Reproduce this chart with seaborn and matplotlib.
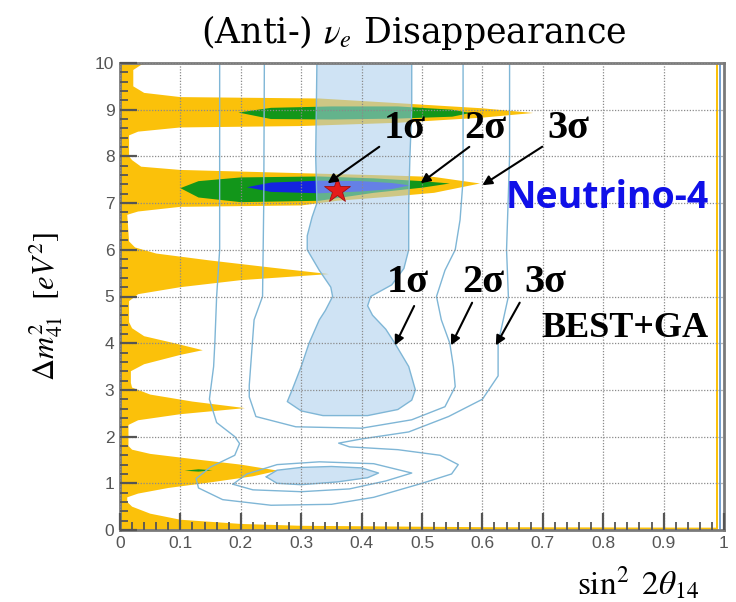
import matplotlib
matplotlib.use("Agg")
import matplotlib.pyplot as plt
import seaborn as sns
from matplotlib.ticker import MultipleLocator, FuncFormatter

# Neutrino-4 3 sigma region (yellow): right boundary from bottom to top, closed along x = 0
n4_3s_x = [0.99, 0.99, 0.60, 0.30, 0.20, 0.10, 0.05, 0.02, 0.012, 0.012,
           0.03, 0.08, 0.15, 0.22, 0.262, 0.20, 0.12, 0.05, 0.02, 0.014,
           0.014, 0.03, 0.10, 0.207, 0.12, 0.05, 0.02, 0.018, 0.018, 0.04,
           0.10, 0.137, 0.09, 0.04, 0.02, 0.015, 0.015, 0.03, 0.10, 0.20,
           0.346, 0.25, 0.15, 0.06, 0.025, 0.015, 0.012, 0.03, 0.10, 0.30,
           0.36, 0.45, 0.52, 0.596, 0.52, 0.45, 0.33, 0.10, 0.035, 0.02,
           0.015, 0.015, 0.03, 0.10, 0.30, 0.46, 0.60, 0.684, 0.60, 0.46,
           0.33, 0.10, 0.04, 0.022, 0.022, 0.035, 0.05, 0.0, 0.0]
n4_3s_y = [0.00, 0.05, 0.06, 0.09, 0.13, 0.22, 0.35, 0.50, 0.60, 0.70,
           0.78, 0.90, 1.02, 1.15, 1.27, 1.40, 1.52, 1.63, 1.72, 1.80,
           2.25, 2.35, 2.48, 2.61, 2.75, 2.90, 3.05, 3.15, 3.40, 3.55,
           3.75, 3.85, 4.00, 4.15, 4.32, 4.45, 4.90, 5.05, 5.20, 5.35,
           5.48, 5.62, 5.77, 5.92, 6.05, 6.18, 6.75, 6.82, 6.92, 6.95,
           7.05, 7.14, 7.22, 7.42, 7.56, 7.59, 7.63, 7.71, 7.78, 7.92,
           8.00, 8.45, 8.53, 8.62, 8.65, 8.72, 8.83, 8.93, 9.03, 9.14,
           9.24, 9.27, 9.36, 9.50, 9.85, 9.96, 10.0, 10.0, 0.0]

# Neutrino-4 2 sigma islands (green)
n4_2s_a_x = [0.196, 0.25, 0.35, 0.46, 0.55, 0.58, 0.55, 0.46, 0.35, 0.25]
n4_2s_a_y = [8.94, 9.04, 9.07, 9.07, 9.00, 8.93, 8.85, 8.81, 8.79, 8.80]
n4_2s_b_x = [0.10, 0.13, 0.20, 0.33, 0.42, 0.50, 0.546, 0.50, 0.42, 0.33, 0.20, 0.13]
n4_2s_b_y = [7.32, 7.47, 7.55, 7.57, 7.53, 7.47, 7.42, 7.33, 7.22, 7.05, 7.02, 7.12]
n4_2s_c_x = [0.107, 0.13, 0.153, 0.13]
n4_2s_c_y = [1.27, 1.30, 1.28, 1.25]

# Neutrino-4 1 sigma island (blue)
n4_1s_x = [0.21, 0.25, 0.33, 0.40, 0.45, 0.48, 0.45, 0.40, 0.33, 0.25]
n4_1s_y = [7.34, 7.44, 7.48, 7.47, 7.43, 7.38, 7.30, 7.25, 7.21, 7.24]

# Neutrino-4 best fit
n4_best = (0.36, 7.28)

# BEST+GA 1 sigma regions (filled light blue)
best_1s_a_x = [0.326, 0.325, 0.324, 0.326, 0.318, 0.31, 0.31, 0.33, 0.349, 0.352,
               0.34, 0.33, 0.313, 0.30, 0.285, 0.277, 0.30, 0.336, 0.41, 0.46,
               0.483, 0.489, 0.478, 0.455, 0.44, 0.418, 0.41, 0.415, 0.45, 0.47,
               0.478, 0.478, 0.48, 0.483, 0.483]
best_1s_a_y = [10.0, 9.0, 8.0, 7.0, 6.7, 6.3, 6.0, 5.56, 5.2, 5.0,
               4.7, 4.5, 4.0, 3.5, 3.0, 2.75, 2.55, 2.45, 2.45, 2.58,
               2.78, 3.0, 3.5, 4.0, 4.3, 4.6, 4.8, 5.0, 5.25, 5.6,
               6.0, 7.0, 8.0, 9.0, 10.0]
best_1s_b_x = [0.242, 0.26, 0.30, 0.35, 0.40, 0.428, 0.41, 0.36, 0.30, 0.26, 0.242]
best_1s_b_y = [1.14, 1.28, 1.34, 1.36, 1.33, 1.22, 1.12, 1.03, 0.97, 1.00, 1.14]

# BEST+GA 2 sigma contours
best_2s_a_x = [0.239, 0.238, 0.236, 0.222, 0.214, 0.214, 0.225, 0.291, 0.40, 0.483,
               0.538, 0.555, 0.552, 0.546, 0.532, 0.524, 0.538, 0.555, 0.563, 0.568, 0.568]
best_2s_a_y = [10.0, 7.0, 5.0, 4.5, 3.1, 2.85, 2.43, 2.21, 2.18, 2.36,
               2.64, 3.07, 3.5, 4.0, 4.5, 5.0, 5.56, 6.0, 6.64, 7.5, 10.0]
best_2s_b_x = [0.187, 0.21, 0.26, 0.33, 0.42, 0.483, 0.44, 0.38, 0.30, 0.22, 0.187]
best_2s_b_y = [0.98, 1.20, 1.40, 1.46, 1.42, 1.22, 1.05, 0.88, 0.82, 0.86, 0.98]

# BEST+GA 3 sigma contour
best_3s_x = [0.645, 0.645, 0.64, 0.643, 0.626, 0.626, 0.60, 0.544, 0.478, 0.40,
             0.362, 0.38, 0.46, 0.53, 0.56, 0.549, 0.50, 0.42, 0.35, 0.25,
             0.17, 0.13, 0.126, 0.15, 0.19, 0.198, 0.19, 0.16, 0.148, 0.155,
             0.157, 0.16, 0.165, 0.165]
best_3s_y = [10.0, 8.0, 6.0, 5.0, 4.0, 3.3, 2.8, 2.43, 2.1, 1.95,
             1.86, 1.78, 1.72, 1.60, 1.40, 1.20, 1.00, 0.70, 0.55, 0.53,
             0.65, 0.90, 1.10, 1.35, 1.60, 1.85, 2.00, 2.30, 2.80, 3.50,
             4.0, 5.0, 6.0, 10.0]

# full-mixing edge strips
n4_edge_x = [0.986, 0.990]
best_edge_x = 0.993

# annotation labels: (text, label x, label y, arrow tip x, arrow tip y, tail x, tail y)
n4_labels = [("1σ", 0.471, 8.60, 0.340, 7.39, 0.433, 8.24),
             ("2σ", 0.604, 8.60, 0.494, 7.39, 0.582, 8.24),
             ("3σ", 0.743, 8.60, 0.596, 7.35, 0.703, 8.24)]
best_labels = [("1σ", 0.476, 5.31, 0.453, 3.90, 0.489, 4.85),
               ("2σ", 0.602, 5.31, 0.546, 3.90, 0.585, 4.92),
               ("3σ", 0.705, 5.31, 0.620, 3.90, 0.664, 4.92)]

YELLOW = "#fbc10a"
GREEN = "#12961a"
BLUE = "#1424e0"
BEST_FILL = "#a9cceb"
BEST_LINE = "#7fb6d6"

sns.set_style("white")
plt.rcParams["mathtext.fontset"] = "stix"

fig = plt.figure(figsize=(7.36, 6.02), dpi=100)
ax = fig.add_axes([120 / 736, 1 - 530 / 602, 604 / 736, 467 / 602])

ax.fill(n4_3s_x, n4_3s_y, color=YELLOW, lw=0, zorder=1)
ax.fill_betweenx([0, 10], n4_edge_x[0], n4_edge_x[1], color=YELLOW, lw=0, zorder=1)
for gx, gy in [(n4_2s_a_x, n4_2s_a_y), (n4_2s_b_x, n4_2s_b_y), (n4_2s_c_x, n4_2s_c_y)]:
    ax.fill(gx, gy, color=GREEN, lw=0, zorder=1.1)
ax.fill(n4_1s_x, n4_1s_y, color=BLUE, lw=0, zorder=1.2)

for bx, by in [(best_1s_a_x, best_1s_a_y), (best_1s_b_x, best_1s_b_y)]:
    ax.fill(bx, by, facecolor=BEST_FILL, alpha=0.55, edgecolor="none", zorder=1.3)
    sns.lineplot(x=bx, y=by, sort=False, estimator=None, color=BEST_LINE, lw=1.0, ax=ax, zorder=1.4)
for bx, by in [(best_2s_a_x, best_2s_a_y), (best_2s_b_x, best_2s_b_y), (best_3s_x, best_3s_y)]:
    sns.lineplot(x=bx, y=by, sort=False, estimator=None, color=BEST_LINE, lw=1.0, ax=ax, zorder=1.4)
ax.plot([best_edge_x, best_edge_x], [0, 10], color="#5b8fc8", lw=1.2, zorder=1.4)

ax.plot(*n4_best, marker="*", ms=19, color="#e41b1b", mec="#a01010", mew=0.6, zorder=4)

for txt, lx, ly, tx, ty, sx, sy in n4_labels + best_labels:
    ax.text(lx, ly, txt, ha="center", va="center", fontsize=29, fontweight="bold",
            family="Liberation Serif", color="black", zorder=5)
    ax.annotate("", xy=(tx, ty), xytext=(sx, sy),
                arrowprops=dict(arrowstyle="-|>", color="black", lw=1.5, mutation_scale=14),
                zorder=5)

ax.text(0.807, 7.11, "Neutrino-4", ha="center", va="center", fontsize=27, fontweight="bold",
        family="Open Sans", color="#1010e8", zorder=5)
ax.text(0.836, 4.31, "BEST+GA", ha="center", va="center", fontsize=26, fontweight="bold",
        family="Liberation Serif", color="black", zorder=5)

ax.set_xlim(0, 1)
ax.set_ylim(0, 10)
ax.xaxis.set_major_locator(MultipleLocator(0.1))
ax.xaxis.set_minor_locator(MultipleLocator(0.02))
ax.yaxis.set_major_locator(MultipleLocator(1))
ax.yaxis.set_minor_locator(MultipleLocator(0.2))
ax.xaxis.set_major_formatter(FuncFormatter(lambda v, p: f"{v:g}"))
ax.yaxis.set_major_formatter(FuncFormatter(lambda v, p: f"{v:g}"))
ax.set_axisbelow(False)
ax.grid(True, which="major", color="#8a8a8a", linestyle=(0, (1, 1.3)), lw=0.9)
ax.tick_params(which="major", direction="in", length=12, width=1.6, color="#555555",
               labelsize=12.5, labelcolor="#555555", top=False, right=False,
               left=True, bottom=True, pad=4)
ax.tick_params(which="minor", direction="in", length=6, width=1.3, color="#555555",
               top=False, right=False, left=True, bottom=True)
for lab in ax.get_xticklabels() + ax.get_yticklabels():
    lab.set_family("Liberation Sans")
for sp in ax.spines.values():
    sp.set_color("#7a7a7a")
    sp.set_linewidth(2)
ax.set_xlabel("")
ax.set_ylabel("")

fig.text(414 / 736, 1 - 32 / 602, r"(Anti-) $\nu_e$ Disappearance", ha="center", va="center",
         fontsize=25, family="DejaVu Serif", color="black")
fig.text(46 / 736, 1 - 307 / 602, r"$\Delta m^2_{41}\ \ [eV^2]$", ha="center", va="center",
         rotation=90, fontsize=22, color="black")
fig.text(638 / 736, 1 - 583 / 602, r"$\sin^2\ 2\theta_{14}$", ha="center", va="center",
         fontsize=24, color="black")

fig.savefig("out.png", dpi=100, facecolor="white")
